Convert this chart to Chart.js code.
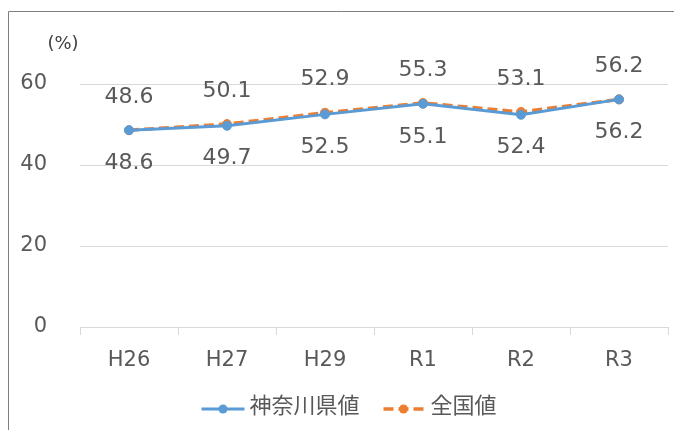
<!DOCTYPE html>
<html><head><meta charset="utf-8">
<script src="https://cdn.jsdelivr.net/npm/chart.js@4"></script>
<style>html,body{margin:0;padding:0;background:#fff;}canvas{display:block;}</style>
</head><body>
<canvas id="c" width="674" height="430"></canvas>
<script>
const categories = ['H26', 'H27', 'H29', 'R1', 'R2', 'R3'];
const kanagawaValues = [48.6, 49.7, 52.5, 55.1, 52.4, 56.2];
const nationalValues = [48.6, 50.1, 52.9, 55.3, 53.1, 56.2];
const seriesNames = ['神奈川県値', '全国値'];
const yMin = 0, yMax = 60, yStep = 20;
const unitLabel = '(%)';

const BLUE = '#5B9BD5', ORANGE = '#ED7D31', TEXT = '#595959', GRID = '#D9D9D9';
const NUM_FONT = '"DejaVu Sans", Verdana, sans-serif';
const JP_FONT = '"Noto Sans CJK JP", "DejaVu Sans", sans-serif';

const framePlugin = {
  id: 'frame',
  beforeDraw(chart) {
    const ctx = chart.ctx;
    ctx.save();
    ctx.fillStyle = '#fff';
    ctx.fillRect(0, 0, chart.width, chart.height);
    ctx.strokeStyle = '#7F7F7F';
    ctx.lineWidth = 1;
    ctx.beginPath();
    ctx.moveTo(8.5, chart.height);
    ctx.lineTo(8.5, 11.5);
    ctx.lineTo(chart.width, 11.5);
    ctx.stroke();
    ctx.fillStyle = '#404040';
    ctx.font = '18px ' + NUM_FONT;
    ctx.textAlign = 'center';
    ctx.textBaseline = 'middle';
    ctx.fillText(unitLabel, 63, 44);
    ctx.restore();
  }
};

const labelPlugin = {
  id: 'valueLabels',
  afterDatasetsDraw(chart) {
    const ctx = chart.ctx;
    ctx.save();
    ctx.fillStyle = TEXT;
    ctx.font = '22px ' + NUM_FONT;
    ctx.textAlign = 'center';
    ctx.textBaseline = 'middle';
    chart.data.datasets.forEach((ds, i) => {
      const meta = chart.getDatasetMeta(i);
      meta.data.forEach((pt, j) => {
        const off = i === 0 ? 33 : -33;
        ctx.fillText(ds.data[j].toFixed(1), pt.x, pt.y + off);
      });
    });
    ctx.restore();
  }
};

const legendPlugin = {
  id: 'customLegend',
  afterDraw(chart) {
    const ctx = chart.ctx;
    ctx.save();
    ctx.font = '22px ' + JP_FONT;
    const ds = chart.data.datasets;
    const lineW = [43, 40];
    const gapAfterLine = [5, 7];
    const gapBetween = 24;
    const widths = ds.map(d => ctx.measureText(d.label).width);
    let total = 0;
    ds.forEach((d, i) => { total += lineW[i] + gapAfterLine[i] + widths[i]; });
    total += gapBetween;
    let x = 349 - total / 2;
    const yLine = 409, yText = 405;
    ds.forEach((d, i) => {
      ctx.strokeStyle = d.borderColor;
      ctx.lineWidth = d.borderWidth;
      ctx.setLineDash(d.borderDash || []);
      ctx.beginPath();
      ctx.moveTo(x, yLine);
      ctx.lineTo(x + lineW[i], yLine);
      ctx.stroke();
      ctx.setLineDash([]);
      ctx.fillStyle = d.pointBackgroundColor;
      ctx.beginPath();
      ctx.arc(x + lineW[i] / 2, yLine, 4.5, 0, Math.PI * 2);
      ctx.fill();
      x += lineW[i] + gapAfterLine[i];
      ctx.fillStyle = TEXT;
      ctx.textAlign = 'left';
      ctx.textBaseline = 'middle';
      ctx.fillText(d.label, x, yText);
      x += widths[i] + gapBetween;
    });
    ctx.restore();
  }
};

new Chart(document.getElementById('c'), {
  type: 'line',
  data: {
    labels: categories,
    datasets: [
      {
        label: seriesNames[0],
        data: kanagawaValues,
        borderColor: BLUE,
        backgroundColor: BLUE,
        pointBackgroundColor: BLUE,
        pointBorderColor: BLUE,
        borderWidth: 3,
        pointRadius: 4.5,
        pointBorderWidth: 1,
        tension: 0,
        clip: false
      },
      {
        label: seriesNames[1],
        data: nationalValues,
        borderColor: ORANGE,
        backgroundColor: ORANGE,
        pointBackgroundColor: ORANGE,
        pointBorderColor: ORANGE,
        borderWidth: 3.5,
        borderDash: [10, 5],
        pointRadius: 4.5,
        pointBorderWidth: 1,
        tension: 0,
        clip: false
      }
    ]
  },
  options: {
    responsive: false,
    animation: false,
    devicePixelRatio: 1,
    layout: { padding: { top: 84, right: 6, left: 0, bottom: 0 } },
    plugins: {
      legend: { display: false },
      tooltip: { enabled: false }
    },
    scales: {
      x: {
        offset: true,
        grid: { offset: true, drawOnChartArea: false, color: GRID, tickLength: 8 },
        border: { color: GRID, width: 1 },
        ticks: { color: TEXT, font: { family: NUM_FONT, size: 21 }, padding: 13 },
        afterFit(scale) { scale.height = 103; }
      },
      y: {
        min: yMin, max: yMax,
        grid: { color: GRID, drawTicks: false },
        border: { display: false },
        ticks: { stepSize: yStep, color: TEXT, font: { family: NUM_FONT, size: 21 }, padding: 33 },
        afterFit(scale) { scale.width = 80; }
      }
    }
  },
  plugins: [framePlugin, labelPlugin, legendPlugin]
});
</script>
</body></html>
